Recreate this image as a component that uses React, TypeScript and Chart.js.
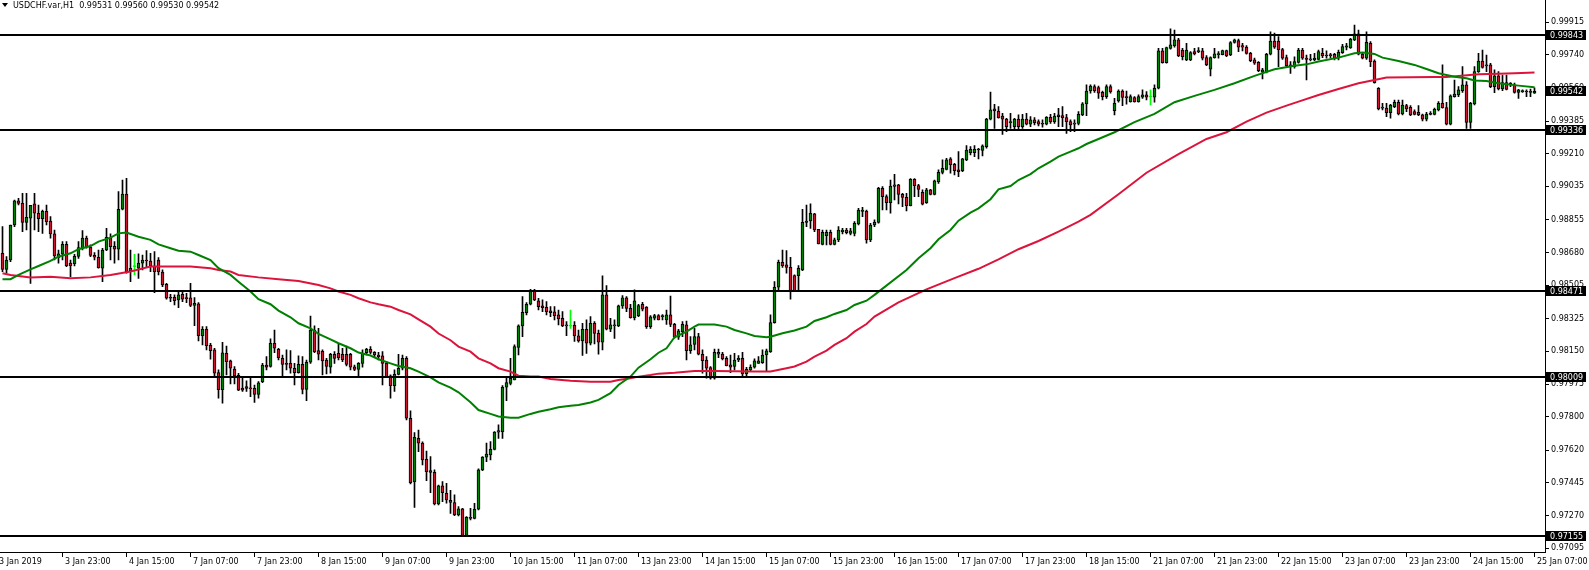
import React, { useEffect, useRef } from "react";
import { Chart, registerables } from "chart.js";

Chart.register(...registerables);

// ---------- data (USDCHF H1, bar 0 = 3 Jan 08:00, last bar = 25 Jan 07:00) ----------
const OPEN = [
0.98673,0.98587,0.98637,0.98825,0.98954,0.98941,0.98838,0.98861,0.98938,0.98888,0.98859,0.98898,0.98846,0.98777,0.98650,0.98668,
0.98721,0.98620,0.98618,0.98657,0.98700,0.98754,0.98705,0.98662,0.98652,0.98593,0.98691,0.98759,0.98711,0.98695,0.98909,0.98991,
0.98593,0.98602,0.98593,0.98620,0.98637,0.98632,0.98605,0.98637,0.98573,0.98507,0.98436,0.98437,0.98423,0.98453,0.98434,0.98434,
0.98393,0.98402,0.98232,0.98266,0.98180,0.98155,0.98033,0.97942,0.98137,0.98096,0.98053,0.98019,0.97951,0.97949,0.97951,0.97949,
0.97917,0.97985,0.98074,0.98066,0.98191,0.98158,0.98110,0.98083,0.98083,0.98057,0.98033,0.98078,0.97944,0.98089,0.98262,0.98151,
0.98148,0.98101,0.98062,0.98132,0.98137,0.98132,0.98132,0.98132,0.98064,0.98051,0.98083,0.98141,0.98158,0.98142,0.98128,0.98123,
0.98083,0.98016,0.97964,0.98024,0.98057,0.98110,0.97789,0.97449,0.97681,0.97655,0.97569,0.97508,0.97499,0.97329,0.97426,0.97386,
0.97349,0.97337,0.97270,0.97303,0.97160,0.97258,0.97252,0.97301,0.97512,0.97580,0.97592,0.97622,0.97714,0.97717,0.97955,0.97976,
0.97994,0.98169,0.98284,0.98355,0.98400,0.98471,0.98418,0.98391,0.98384,0.98364,0.98359,0.98343,0.98325,0.98289,0.98282,0.98287,
0.98230,0.98203,0.98266,0.98191,0.98298,0.98244,0.98196,0.98450,0.98266,0.98284,0.98284,0.98391,0.98435,0.98378,0.98328,0.98339,
0.98400,0.98385,0.98280,0.98325,0.98339,0.98334,0.98316,0.98343,0.98292,0.98223,0.98253,0.98289,0.98151,0.98185,0.98226,0.98132,
0.98101,0.98060,0.98003,0.98142,0.98133,0.98110,0.98075,0.98066,0.98101,0.98110,0.98026,0.98048,0.98062,0.98083,0.98087,0.98128,
0.98146,0.98301,0.98491,0.98625,0.98611,0.98598,0.98553,0.98553,0.98584,0.98846,0.98846,0.98884,0.98802,0.98721,0.98768,0.98786,
0.98721,0.98745,0.98789,0.98798,0.98780,0.98780,0.98830,0.98897,0.98900,0.98745,0.98825,0.98838,0.99022,0.98977,0.98945,0.99031,
0.99040,0.98989,0.98973,0.98929,0.99070,0.99036,0.99000,0.98945,0.99013,0.98989,0.99057,0.99107,0.99123,0.99179,0.99150,0.99120,
0.99116,0.99174,0.99213,0.99213,0.99227,0.99224,0.99245,0.99392,0.99447,0.99436,0.99409,0.99392,0.99374,0.99352,0.99392,0.99352,
0.99392,0.99365,0.99388,0.99379,0.99365,0.99365,0.99402,0.99379,0.99415,0.99411,0.99400,0.99379,0.99366,0.99370,0.99415,0.99474,
0.99543,0.99567,0.99561,0.99536,0.99513,0.99567,0.99438,0.99490,0.99543,0.99513,0.99486,0.99508,0.99486,0.99510,0.99522,0.99511,
0.99510,0.99558,0.99758,0.99695,0.99772,0.99786,0.99817,0.99763,0.99710,0.99710,0.99754,0.99754,0.99758,0.99722,0.99660,0.99722,
0.99738,0.99738,0.99760,0.99736,0.99803,0.99813,0.99786,0.99778,0.99745,0.99710,0.99697,0.99644,0.99644,0.99740,0.99811,0.99811,
0.99765,0.99722,0.99683,0.99674,0.99697,0.99763,0.99719,0.99713,0.99710,0.99713,0.99745,0.99731,0.99736,0.99740,0.99719,0.99749,
0.99778,0.99776,0.99817,0.99849,0.99740,0.99719,0.99799,0.99704,0.99558,0.99456,0.99451,0.99427,0.99459,0.99483,0.99420,0.99465,
0.99456,0.99433,0.99429,0.99415,0.99392,0.99418,0.99418,0.99442,0.99477,0.99454,0.99365,0.99513,0.99522,0.99545,0.99576,0.99375,
0.99474,0.99647,0.99704,0.99683,0.99683,0.99567,0.99624,0.99554,0.99588,0.99585,0.99576,0.99536,0.99540,0.99542,0.99536,0.99531,
];
const HIGH = [
0.98816,0.98655,0.98825,0.98959,0.98968,0.98995,0.98995,0.98930,0.98995,0.98932,0.98905,0.98932,0.98870,0.98798,0.98691,0.98736,
0.98736,0.98637,0.98668,0.98736,0.98795,0.98766,0.98718,0.98677,0.98691,0.98700,0.98807,0.98777,0.98736,0.99004,0.99066,0.99075,
0.98691,0.98668,0.98670,0.98664,0.98687,0.98673,0.98682,0.98650,0.98584,0.98512,0.98453,0.98450,0.98464,0.98464,0.98459,0.98512,
0.98436,0.98409,0.98280,0.98280,0.98191,0.98164,0.98048,0.98196,0.98176,0.98101,0.98066,0.98030,0.98003,0.97990,0.98003,0.97967,
0.97985,0.98083,0.98119,0.98214,0.98262,0.98164,0.98128,0.98155,0.98151,0.98083,0.98123,0.98119,0.98101,0.98337,0.98284,0.98271,
0.98155,0.98110,0.98137,0.98146,0.98191,0.98164,0.98176,0.98137,0.98074,0.98087,0.98155,0.98164,0.98173,0.98146,0.98142,0.98146,
0.98092,0.98021,0.98048,0.98132,0.98128,0.98119,0.97828,0.97712,0.97726,0.97663,0.97613,0.97583,0.97512,0.97431,0.97449,0.97440,
0.97403,0.97378,0.97315,0.97306,0.97261,0.97306,0.97333,0.97517,0.97583,0.97655,0.97664,0.97717,0.97753,0.97964,0.98003,0.98110,
0.98182,0.98289,0.98441,0.98409,0.98480,0.98480,0.98432,0.98423,0.98414,0.98387,0.98387,0.98369,0.98360,0.98307,0.98369,0.98307,
0.98262,0.98298,0.98316,0.98334,0.98307,0.98262,0.98552,0.98500,0.98325,0.98316,0.98396,0.98446,0.98441,0.98400,0.98477,0.98400,
0.98410,0.98387,0.98339,0.98346,0.98344,0.98344,0.98369,0.98444,0.98298,0.98266,0.98307,0.98310,0.98226,0.98271,0.98244,0.98155,
0.98119,0.98066,0.98159,0.98159,0.98142,0.98119,0.98128,0.98137,0.98125,0.98142,0.98062,0.98075,0.98107,0.98119,0.98155,0.98159,
0.98343,0.98521,0.98637,0.98691,0.98687,0.98652,0.98557,0.98607,0.98909,0.98932,0.98938,0.98888,0.98802,0.98798,0.98798,0.98798,
0.98754,0.98816,0.98807,0.98807,0.98807,0.98843,0.98914,0.98920,0.98905,0.98834,0.98852,0.99027,0.99031,0.98986,0.99066,0.99097,
0.99043,0.98995,0.98995,0.99073,0.99073,0.99043,0.99013,0.99022,0.99016,0.99066,0.99120,0.99174,0.99182,0.99186,0.99156,0.99218,
0.99182,0.99250,0.99245,0.99250,0.99236,0.99254,0.99397,0.99538,0.99472,0.99459,0.99424,0.99397,0.99424,0.99397,0.99415,0.99418,
0.99424,0.99406,0.99400,0.99388,0.99388,0.99406,0.99418,0.99424,0.99450,0.99459,0.99418,0.99388,0.99388,0.99433,0.99481,0.99576,
0.99576,0.99576,0.99570,0.99543,0.99576,0.99576,0.99504,0.99549,0.99549,0.99543,0.99522,0.99513,0.99522,0.99549,0.99540,0.99549,
0.99576,0.99772,0.99772,0.99778,0.99876,0.99870,0.99826,0.99772,0.99799,0.99754,0.99772,0.99776,0.99772,0.99733,0.99727,0.99772,
0.99754,0.99763,0.99763,0.99808,0.99822,0.99822,0.99799,0.99786,0.99751,0.99719,0.99701,0.99665,0.99745,0.99860,0.99853,0.99835,
0.99772,0.99736,0.99701,0.99727,0.99772,0.99772,0.99736,0.99740,0.99745,0.99763,0.99772,0.99758,0.99745,0.99745,0.99763,0.99794,
0.99799,0.99826,0.99897,0.99870,0.99749,0.99860,0.99808,0.99710,0.99561,0.99477,0.99477,0.99472,0.99495,0.99495,0.99495,0.99472,
0.99465,0.99442,0.99465,0.99420,0.99429,0.99433,0.99451,0.99486,0.99683,0.99483,0.99522,0.99602,0.99567,0.99674,0.99593,0.99483,
0.99674,0.99745,0.99763,0.99736,0.99692,0.99656,0.99647,0.99629,0.99629,0.99588,0.99585,0.99552,0.99549,0.99549,0.99554,0.99560,
];
const LOW = [
0.98575,0.98566,0.98628,0.98816,0.98932,0.98789,0.98798,0.98512,0.98798,0.98789,0.98780,0.98825,0.98754,0.98637,0.98620,0.98637,
0.98602,0.98548,0.98605,0.98646,0.98691,0.98700,0.98655,0.98637,0.98593,0.98521,0.98687,0.98637,0.98620,0.98637,0.98905,0.98566,
0.98521,0.98557,0.98539,0.98584,0.98602,0.98575,0.98462,0.98557,0.98494,0.98427,0.98414,0.98396,0.98382,0.98414,0.98409,0.98387,
0.98285,0.98203,0.98182,0.98155,0.98105,0.98012,0.97896,0.97869,0.98021,0.97973,0.97973,0.97937,0.97932,0.97932,0.97905,0.97873,
0.97896,0.97980,0.98048,0.98062,0.98141,0.98101,0.98008,0.98048,0.98030,0.97967,0.98030,0.97919,0.97883,0.98083,0.98141,0.98101,
0.98021,0.98026,0.98030,0.98083,0.98101,0.98092,0.98069,0.98048,0.98044,0.98008,0.98062,0.98128,0.98134,0.98116,0.98101,0.97967,
0.98008,0.97896,0.97932,0.98021,0.98048,0.97780,0.97437,0.97311,0.97610,0.97538,0.97454,0.97390,0.97324,0.97324,0.97342,0.97333,
0.97279,0.97267,0.97265,0.97155,0.97155,0.97244,0.97249,0.97297,0.97508,0.97556,0.97565,0.97619,0.97681,0.97681,0.97883,0.97967,
0.97994,0.98128,0.98226,0.98343,0.98396,0.98419,0.98369,0.98360,0.98343,0.98334,0.98316,0.98289,0.98280,0.98232,0.98271,0.98200,
0.98196,0.98125,0.98137,0.98182,0.98187,0.98132,0.98155,0.98262,0.98253,0.98217,0.98280,0.98378,0.98360,0.98325,0.98316,0.98334,
0.98364,0.98271,0.98271,0.98316,0.98316,0.98316,0.98292,0.98280,0.98218,0.98212,0.98226,0.98101,0.98137,0.98155,0.98128,0.98030,
0.98003,0.97998,0.97998,0.98114,0.98101,0.98069,0.98033,0.98048,0.98092,0.98012,0.98012,0.98042,0.98057,0.98083,0.98083,0.98039,
0.98142,0.98298,0.98477,0.98598,0.98566,0.98427,0.98468,0.98473,0.98580,0.98816,0.98807,0.98789,0.98723,0.98718,0.98718,0.98718,
0.98718,0.98736,0.98777,0.98777,0.98771,0.98766,0.98825,0.98870,0.98727,0.98736,0.98816,0.98834,0.98905,0.98905,0.98888,0.98959,
0.98938,0.98923,0.98900,0.98927,0.98977,0.98977,0.98932,0.98941,0.98986,0.98986,0.99048,0.99098,0.99120,0.99102,0.99093,0.99084,
0.99111,0.99170,0.99200,0.99191,0.99179,0.99195,0.99236,0.99388,0.99343,0.99397,0.99311,0.99325,0.99343,0.99334,0.99334,0.99343,
0.99361,0.99352,0.99361,0.99356,0.99349,0.99361,0.99370,0.99370,0.99352,0.99352,0.99316,0.99325,0.99325,0.99361,0.99411,0.99411,
0.99531,0.99536,0.99504,0.99495,0.99504,0.99531,0.99415,0.99483,0.99465,0.99472,0.99483,0.99483,0.99483,0.99504,0.99495,0.99468,
0.99483,0.99554,0.99692,0.99692,0.99767,0.99778,0.99727,0.99710,0.99706,0.99706,0.99736,0.99749,0.99710,0.99679,0.99624,0.99719,
0.99719,0.99736,0.99727,0.99733,0.99799,0.99754,0.99758,0.99740,0.99701,0.99686,0.99647,0.99608,0.99640,0.99736,0.99772,0.99674,
0.99713,0.99668,0.99638,0.99665,0.99692,0.99713,0.99602,0.99704,0.99706,0.99710,0.99722,0.99719,0.99719,0.99710,0.99710,0.99745,
0.99763,0.99772,0.99813,0.99736,0.99715,0.99713,0.99674,0.99585,0.99442,0.99442,0.99406,0.99397,0.99454,0.99415,0.99415,0.99433,
0.99411,0.99415,0.99411,0.99383,0.99383,0.99415,0.99415,0.99436,0.99451,0.99361,0.99361,0.99510,0.99513,0.99536,0.99343,0.99343,
0.99468,0.99643,0.99665,0.99647,0.99561,0.99534,0.99549,0.99545,0.99549,0.99567,0.99531,0.99504,0.99536,0.99513,0.99513,0.99530,
];
const CLOSE = [
0.98587,0.98637,0.98825,0.98954,0.98941,0.98838,0.98866,0.98930,0.98888,0.98859,0.98898,0.98843,0.98777,0.98659,0.98670,0.98721,
0.98607,0.98607,0.98657,0.98704,0.98754,0.98709,0.98662,0.98652,0.98596,0.98691,0.98759,0.98709,0.98695,0.98909,0.98991,0.98575,
0.98578,0.98602,0.98620,0.98637,0.98632,0.98605,0.98575,0.98575,0.98503,0.98432,0.98432,0.98419,0.98450,0.98427,0.98430,0.98393,
0.98405,0.98232,0.98266,0.98178,0.98151,0.98030,0.97942,0.98139,0.98092,0.98057,0.98016,0.97939,0.97939,0.97958,0.97946,0.97917,
0.97978,0.98074,0.98062,0.98191,0.98164,0.98114,0.98078,0.98078,0.98057,0.98033,0.98078,0.97944,0.98089,0.98262,0.98146,0.98132,
0.98096,0.98066,0.98132,0.98110,0.98114,0.98101,0.98078,0.98062,0.98051,0.98083,0.98137,0.98158,0.98142,0.98128,0.98119,0.98083,
0.98012,0.97964,0.98024,0.98057,0.98110,0.97789,0.97444,0.97687,0.97655,0.97565,0.97503,0.97499,0.97329,0.97426,0.97390,0.97351,
0.97338,0.97270,0.97303,0.97160,0.97258,0.97252,0.97301,0.97512,0.97580,0.97597,0.97622,0.97714,0.97723,0.97955,0.97980,0.98003,
0.98173,0.98284,0.98357,0.98400,0.98471,0.98423,0.98387,0.98382,0.98360,0.98355,0.98339,0.98321,0.98285,0.98284,0.98282,0.98230,
0.98203,0.98266,0.98191,0.98298,0.98244,0.98196,0.98450,0.98266,0.98289,0.98289,0.98391,0.98435,0.98378,0.98328,0.98418,0.98393,
0.98373,0.98280,0.98332,0.98339,0.98316,0.98339,0.98343,0.98292,0.98223,0.98257,0.98292,0.98151,0.98182,0.98226,0.98132,0.98098,
0.98057,0.98003,0.98142,0.98132,0.98107,0.98071,0.98062,0.98101,0.98110,0.98026,0.98051,0.98062,0.98096,0.98096,0.98128,0.98150,
0.98301,0.98491,0.98625,0.98607,0.98598,0.98473,0.98473,0.98593,0.98839,0.98838,0.98888,0.98798,0.98723,0.98786,0.98786,0.98721,
0.98745,0.98798,0.98798,0.98784,0.98793,0.98834,0.98905,0.98905,0.98745,0.98825,0.98839,0.99022,0.98977,0.98945,0.99034,0.99040,
0.98989,0.98973,0.98929,0.99070,0.99036,0.99016,0.98936,0.99013,0.98989,0.99061,0.99107,0.99129,0.99174,0.99147,0.99116,0.99111,
0.99179,0.99227,0.99231,0.99231,0.99232,0.99249,0.99393,0.99442,0.99436,0.99400,0.99392,0.99352,0.99379,0.99392,0.99352,0.99392,
0.99365,0.99388,0.99374,0.99365,0.99370,0.99402,0.99379,0.99409,0.99406,0.99400,0.99379,0.99361,0.99370,0.99418,0.99474,0.99543,
0.99570,0.99543,0.99531,0.99513,0.99567,0.99540,0.99477,0.99543,0.99509,0.99508,0.99513,0.99486,0.99513,0.99522,0.99510,0.99511,
0.99558,0.99758,0.99695,0.99776,0.99790,0.99817,0.99733,0.99727,0.99763,0.99749,0.99742,0.99758,0.99719,0.99683,0.99722,0.99742,
0.99742,0.99760,0.99733,0.99803,0.99817,0.99778,0.99778,0.99745,0.99706,0.99692,0.99652,0.99656,0.99740,0.99811,0.99778,0.99765,
0.99719,0.99679,0.99674,0.99701,0.99763,0.99719,0.99713,0.99710,0.99719,0.99754,0.99733,0.99736,0.99733,0.99719,0.99751,0.99781,
0.99785,0.99822,0.99849,0.99740,0.99719,0.99804,0.99701,0.99588,0.99447,0.99451,0.99427,0.99468,0.99483,0.99420,0.99468,0.99447,
0.99415,0.99418,0.99415,0.99392,0.99420,0.99424,0.99445,0.99477,0.99454,0.99365,0.99517,0.99527,0.99549,0.99576,0.99375,0.99477,
0.99647,0.99704,0.99670,0.99678,0.99567,0.99624,0.99554,0.99588,0.99552,0.99576,0.99536,0.99549,0.99545,0.99538,0.99540,0.99542,
];

// moving averages, read at sampled bar indices
const MA_FAST_IDX = [0,2,4,7,9,12,14,17,19,22,24,27,29,31,34,37,39,42,44,47,49,52,54,57,59,62,64,67,69,72,74,77,79,82,84,87,89,92,94,97,99,102,104,107,109,112,114,117,119,122,124,127,129,132,134,137,139,142,144,147,149,152,154,157,159,162,164,166,168,171,173,174,178,181,183,186,188,191,192,195,198,201,203,206,208,211,213,216,218,226,229,232,234,237,239,242,244,247,249,252,254,257,259,262,264,267,269,271,274,278,283,288,293,298,303,308,313,318,323,326,329,334,338,340,343,345,349,353,356,359,363,366,368,371,374,379,383];
const MA_FAST = [0.98534,0.98534,0.98557,0.98587,0.98605,0.98632,0.98655,0.98673,0.98695,0.98712,0.98736,0.98757,0.98780,0.98784,0.98762,0.98745,0.98721,0.98700,0.98687,0.98682,0.98664,0.98637,0.98593,0.98557,0.98521,0.98468,0.98427,0.98400,0.98366,0.98330,0.98298,0.98271,0.98241,0.98212,0.98191,0.98164,0.98141,0.98125,0.98105,0.98083,0.98069,0.98057,0.98039,0.98008,0.97981,0.97953,0.97928,0.97874,0.97833,0.97812,0.97798,0.97792,0.97792,0.97812,0.97824,0.97837,0.97848,0.97856,0.97860,0.97873,0.97887,0.97923,0.97967,0.98012,0.98060,0.98105,0.98140,0.98164,0.98223,0.98253,0.98280,0.98291,0.98291,0.98280,0.98262,0.98244,0.98230,0.98223,0.98226,0.98244,0.98259,0.98280,0.98310,0.98330,0.98348,0.98369,0.98396,0.98419,0.98450,0.98584,0.98646,0.98700,0.98748,0.98798,0.98848,0.98891,0.98914,0.98963,0.99016,0.99034,0.99066,0.99098,0.99129,0.99165,0.99191,0.99218,0.99236,0.99259,0.99286,0.99322,0.99376,0.99420,0.99483,0.99517,0.99549,0.99585,0.99624,0.99660,0.99679,0.99686,0.99701,0.99722,0.99745,0.99749,0.99742,0.99722,0.99704,0.99683,0.99661,0.99638,0.99620,0.99611,0.99599,0.99597,0.99585,0.99572,0.99563];
const MA_SLOW_IDX = [0,2,7,12,17,22,27,32,37,42,47,52,54,57,59,64,69,74,79,82,84,87,89,92,94,97,99,102,104,107,109,112,114,117,119,122,124,127,129,132,134,137,142,147,152,154,157,159,162,164,168,173,178,183,188,192,196,198,201,203,206,208,211,213,216,218,224,231,238,244,249,254,259,264,269,272,279,286,294,301,306,311,316,321,324,329,334,339,343,346,352,358,361,364,369,374,378,383];
const MA_SLOW = [0.98566,0.98557,0.98544,0.98548,0.98539,0.98544,0.98557,0.98575,0.98602,0.98602,0.98602,0.98593,0.98584,0.98575,0.98557,0.98544,0.98534,0.98525,0.98503,0.98485,0.98468,0.98450,0.98432,0.98410,0.98400,0.98387,0.98369,0.98346,0.98319,0.98280,0.98243,0.98207,0.98173,0.98146,0.98110,0.98083,0.98057,0.98039,0.98017,0.98012,0.98012,0.97999,0.97990,0.97985,0.97985,0.97994,0.98003,0.98012,0.98021,0.98028,0.98033,0.98042,0.98042,0.98041,0.98039,0.98039,0.98057,0.98066,0.98092,0.98119,0.98151,0.98182,0.98218,0.98253,0.98294,0.98334,0.98410,0.98480,0.98540,0.98590,0.98641,0.98695,0.98739,0.98789,0.98843,0.98879,0.98990,0.99105,0.99205,0.99286,0.99322,0.99379,0.99427,0.99465,0.99486,0.99522,0.99554,0.99585,0.99602,0.99615,0.99617,0.99618,0.99618,0.99624,0.99633,0.99636,0.99638,0.99642];

const LEVELS = [0.99843, 0.99336, 0.98471, 0.98009, 0.97155];
const LAST_PRICE = 0.99542;
const PRICE_TICKS = [0.99915,0.99740,0.99560,0.99385,0.99210,0.99035,0.98855,0.98680,0.98505,0.98325,0.98150,0.97975,0.97800,0.97620,0.97445,0.97270,0.97095];
const TIME_TICK_IDX = [-1,15,31,47,63,79,95,111,127,143,159,175,191,207,223,239,255,271,287,303,319,335,351,367,383];
const TIME_LABELS = ["3 Jan 2019","3 Jan 23:00","4 Jan 15:00","7 Jan 07:00","7 Jan 23:00","8 Jan 15:00","9 Jan 07:00","9 Jan 23:00","10 Jan 15:00","11 Jan 07:00","13 Jan 23:00","14 Jan 15:00","15 Jan 07:00","15 Jan 23:00","16 Jan 15:00","17 Jan 07:00","17 Jan 23:00","18 Jan 15:00","21 Jan 07:00","21 Jan 23:00","22 Jan 15:00","23 Jan 07:00","23 Jan 23:00","24 Jan 15:00","25 Jan 07:00"];
const TITLE = "USDCHF.var,H1  0.99531 0.99560 0.99530 0.99542";

const W = 1589;
const H = 570;
const FONT = '8px "DejaVu Sans"';

export default function App() {
  const ref = useRef<HTMLCanvasElement>(null);

  useEffect(() => {
    document.body.style.margin = "0";
    const n = CLOSE.length;
    const idx = Array.from({ length: n }, (_, i) => i);
    const bull = "#008000";
    const bear = "#C8142D";
    const flat = "#00FF00";
    const bodyColor = idx.map((i) => (CLOSE[i] > OPEN[i] ? bull : CLOSE[i] < OPEN[i] ? bear : flat));
    const edgeColor = idx.map((i) => (CLOSE[i] === OPEN[i] ? flat : "#000000"));

    const overlay = {
      id: "mt4overlay",
      afterDatasetsDraw(chart: any) {
        const ctx = chart.ctx;
        const ys = chart.scales.y;
        const area = chart.chartArea;
        ctx.save();
        ctx.fillStyle = "#000000";
        for (const v of LEVELS) {
          const y = Math.round(ys.getPixelForValue(v));
          ctx.fillRect(0, y - 1, Math.round(area.right), 2);
        }
        ctx.restore();
      },
      afterDraw(chart: any) {
        const ctx = chart.ctx;
        const ys = chart.scales.y;
        const xs = chart.scales.x;
        const area = chart.chartArea;
        const right = Math.round(area.right);
        const bottom = Math.floor(area.bottom);
        ctx.save();
        ctx.fillStyle = "#000000";
        // frame
        ctx.fillRect(right, 0, 1, bottom + 1);
        ctx.fillRect(0, bottom, right + 1, 1);
        ctx.font = FONT;
        // price scale
        ctx.textAlign = "left";
        ctx.textBaseline = "middle";
        for (const v of PRICE_TICKS) {
          const y = ys.getPixelForValue(v);
          ctx.fillRect(right + 1, Math.round(y), 3, 1);
          ctx.fillText(v.toFixed(5), right + 6, y + 0.5);
        }
        // boxed levels
        for (const v of [...LEVELS, LAST_PRICE]) {
          const y = Math.round(ys.getPixelForValue(v));
          ctx.fillStyle = "#000000";
          ctx.fillRect(right + 1, y - 5, 40, 10);
          ctx.fillStyle = "#FFFFFF";
          ctx.fillText(v.toFixed(5), right + 5, y + 0.5);
        }
        // time scale
        ctx.fillStyle = "#000000";
        TIME_TICK_IDX.forEach((t, k) => {
          const x = Math.floor(xs.getPixelForValue(t));
          ctx.fillRect(x, bottom, 1, 5);
          ctx.fillText(TIME_LABELS[k], k === 0 ? -1 : x + 3, 562);
        });
        // title
        ctx.beginPath();
        ctx.moveTo(2, 3);
        ctx.lineTo(8, 3);
        ctx.lineTo(5, 7);
        ctx.closePath();
        ctx.fill();
        ctx.fillText(TITLE, 13, 5.5);
        ctx.restore();
      },
    };

    const chart = new Chart(ref.current as HTMLCanvasElement, {
      type: "bar",
      data: {
        datasets: [
          {
            type: "bar",
            label: "wick",
            data: idx.map((i) => ({ x: i, y: [LOW[i], HIGH[i]] })),
            backgroundColor: edgeColor,
            borderWidth: 0,
            barThickness: 1,
            grouped: false,
            minBarLength: 1,
            order: 3,
          } as any,
          {
            type: "bar",
            label: "body",
            data: idx.map((i) => ({ x: i, y: [OPEN[i], CLOSE[i]] })),
            backgroundColor: bodyColor,
            borderColor: edgeColor,
            borderWidth: 1,
            borderSkipped: false,
            barThickness: 3,
            grouped: false,
            minBarLength: 1,
            order: 2,
          } as any,
          {
            type: "line",
            label: "MA fast",
            data: MA_FAST_IDX.map((x, k) => ({ x, y: MA_FAST[k] })),
            borderColor: "#008000",
            borderWidth: 2,
            pointRadius: 0,
            tension: 0,
            order: 1,
          } as any,
          {
            type: "line",
            label: "MA slow",
            data: MA_SLOW_IDX.map((x, k) => ({ x, y: MA_SLOW[k] })),
            borderColor: "#DC143C",
            borderWidth: 2,
            pointRadius: 0,
            tension: 0,
            order: 1,
          } as any,
        ],
      },
      options: {
        animation: false,
        responsive: false,
        maintainAspectRatio: false,
        events: [],
        layout: { padding: { left: 0, top: 0, right: 44, bottom: 17.3 } },
        plugins: { legend: { display: false }, tooltip: { enabled: false }, title: { display: false } },
        scales: {
          x: { type: "linear", min: -0.625, max: 385.625, display: false, offset: false },
          y: { type: "linear", min: 0.97068, max: 1.00031, display: false },
        },
      } as any,
      plugins: [overlay],
    });
    return () => chart.destroy();
  }, []);

  return <canvas ref={ref} width={W} height={H} style={{ display: "block" }} />;
}
